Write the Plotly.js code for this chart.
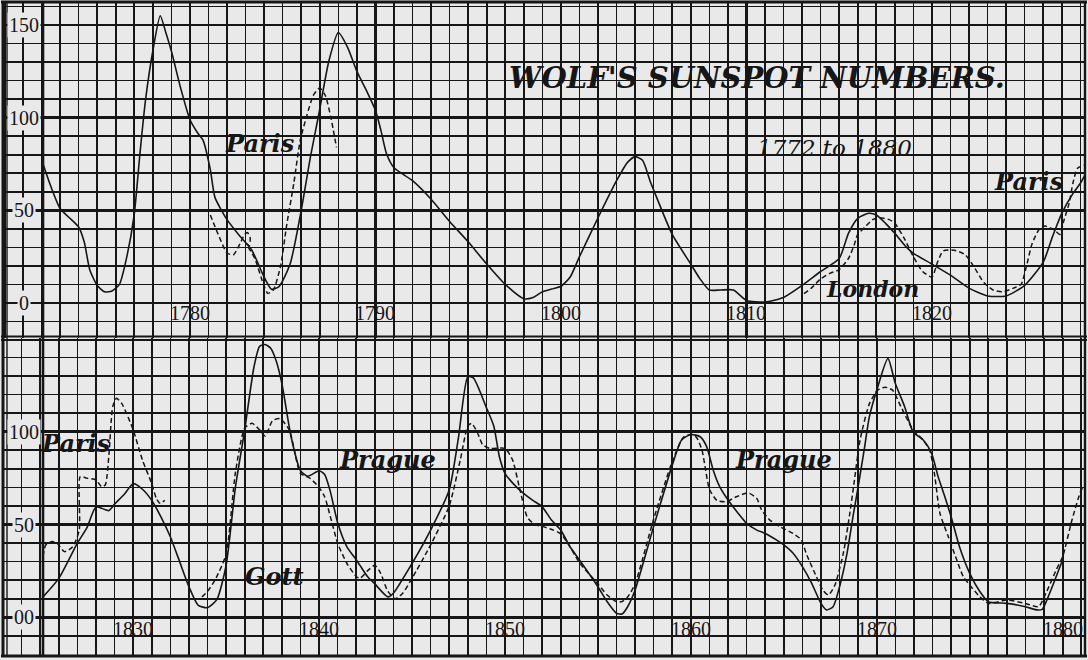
<!DOCTYPE html>
<html>
<head>
<meta charset="utf-8">
<script src="https://cdn.plot.ly/plotly-3.0.1.min.js"></script>
<style>
  html, body { margin: 0; padding: 0; background: #e9e9e9; }
  #chart { width: 1088px; height: 660px; }
</style>
</head>
<body>
<div id="chart"></div>
<script>
// ---------------- DATA ----------------
// Upper panel, 1772-1828: Wolf's numbers (solid)
const topWolfYears = [1772.08,1772.5,1773,1773.5,1774,1774.3,1774.6,1775,1775.4,1775.8,1776.2,1776.6,1777,1777.3,1777.6,1778,1778.4,1778.7,1779,1779.5,1780,1780.4,1780.7,1781.1,1781.35,1782,1782.7,1783.33,1784,1784.4,1784.8,1785.4,1786,1786.5,1786.95,1787.5,1788,1788.5,1789,1789.5,1790,1790.3,1790.6,1791,1792,1793,1794,1795,1796,1797,1798,1798.5,1799,1799.5,1800,1800.5,1801,1802,1803,1803.6,1804,1804.4,1804.8,1805,1806,1807,1807.5,1808,1808.6,1809.3,1810,1811,1812,1813,1814,1815,1815.5,1816,1816.6,1817,1817.5,1818,1818.6,1819,1820,1821,1822,1823,1824,1825,1826,1826.5,1827,1827.6,1828,1828.25];
const topWolf      = [75,63,51,46,41,33,18,9.5,6,6.5,10,25,48,80,109,136,155,146,136,116,99,92,88,72,57,45,36,28.6,14,7.4,8.8,21,50,79,102,131,146,138,125,115,104,93,80.5,73,66,56,44,33,21,10,2.3,3,6,7.5,9,14,25,46,66,76,79,77,66,61,37,21,13,7,7,7,1.4,0.5,3,9.5,17,24,37.6,45.7,48.4,47.5,43,37.6,30.4,26.8,21,15,8,3.8,3.8,9.5,22,35.8,48.4,59,64.6,69];
// Upper panel: Paris (dashed), 1781-1788
const topParisYears = [1781.1,1781.5,1782,1782.35,1782.7,1782.95,1783.1,1783.25,1783.2,1783.05,1783.15,1783.5,1784,1784.2,1784.5,1784.9,1785.2,1785.6,1785.95,1786.3,1786.65,1787,1787.3,1787.6,1787.9];
const topParis      = [47.5,37.6,27,26,32,37,38,35,31,32,30,24,9,5.2,7,20.5,41,64.6,88,101,112,116,112,100,84];
// Upper panel: London and Paris (dashed), 1813-1828
const topLondonYears = [1813.1,1813.5,1814,1814.5,1815,1815.5,1815.8,1816,1816.4,1816.8,1817.2,1817.7,1818,1818.5,1819,1819.5,1820,1820.3,1820.6,1821.2,1821.8,1822.3,1822.8,1823.3,1823.8,1824.4,1824.8,1825.1,1825.4,1825.8,1826.1,1826.6,1826.9,1827.1,1827.4,1827.6,1827.85,1828.25];
const topLondon      = [5,8,13,16,18,24,31,37,41,45,46,45,43,35,25,17,14,22,28,28.5,26,19,11,7,6,8,10,20,32,40,41.5,39.4,37,44,54,64.6,72.7,74.5];

// Lower panel, 1825-1880: Wolf's numbers (solid)
const botWolfYears = [1825.15,1826,1827,1827.5,1828,1828.5,1828.7,1829,1829.5,1830,1830.5,1831,1831.5,1832,1832.5,1833,1833.5,1834,1834.5,1835,1835.5,1836,1836.5,1836.8,1837.1,1837.4,1837.7,1838,1838.5,1839,1839.4,1840,1840.3,1840.6,1841,1841.5,1842,1842.2,1842.6,1843,1843.7,1844,1845,1846,1847,1847.5,1848,1848.3,1849,1849.4,1849.7,1850,1850.6,1851,1851.5,1852,1852.5,1853,1853.5,1854,1855,1855.5,1856,1856.3,1856.6,1857,1858,1859,1859.5,1860,1860.5,1860.85,1861.2,1861.55,1862,1862.55,1863,1863.55,1864,1864.6,1865,1865.5,1866,1866.5,1867,1867.3,1867.65,1868,1868.4,1868.75,1869,1869.35,1869.6,1870,1870.6,1871,1871.5,1871.95,1872.5,1872.95,1873.3,1873.6,1874,1874.45,1875,1875.55,1876,1877,1878,1878.6,1878.9,1879.3,1880];
const botWolf      = [11,21,40,48,59.5,58,57.5,61,66,72,69,63,54,43.4,30,16.5,6.5,5.2,9.5,28,70,101,135,146,147,145,138,126,97,79,76,79,77,68,51,38,31,28,22,18,11,13,29,47,68.6,97,129.6,129,113,103,86.5,77.6,70.4,66.8,63,59.6,52.4,47,38,31,16.5,8.4,2.2,1.8,5.7,14.7,49,82,95.5,98.5,97.3,92,79.4,70.4,63.2,56,50.6,47,45.2,41.7,39,34.5,27.3,18.3,7.5,4,5.7,16.5,34.5,56,70.4,92,108,122.4,139.5,126,113.5,100,95.5,88.3,75.8,66.8,54.2,38,23.7,13.8,8.4,7.5,5.7,4,4.3,13,31];
// Lower panel: Paris (dashed), 1825-1831
const botParisYears = [1825.15,1825.3,1825.65,1825.9,1826.3,1826.75,1827.1,1827.15,1827.5,1828,1828.3,1828.5,1828.7,1828.9,1829.1,1829.4,1830,1830.5,1831,1831.25,1831.45,1831.7];
const botParis      = [33,39,40.8,40,35.4,38,47,75.8,75,74,70.4,71.3,88,113.5,118,115,101,84.7,72,64,61.4,63];
// Lower panel: Gott and Prague (dashed), 1833-1881
const botPragueYears = [1833.7,1834,1834.4,1835,1835.5,1836,1836.4,1836.8,1837.1,1837.5,1837.9,1838.4,1839,1839.5,1840,1840.3,1841,1841.5,1842,1842.2,1842.6,1843,1843.3,1843.7,1844.1,1844.5,1845,1846,1847,1847.6,1848,1848.2,1848.5,1848.8,1849.2,1850,1850.4,1850.8,1851.2,1851.6,1852,1852.6,1853,1853.5,1854,1855,1855.5,1856,1856.3,1856.6,1857,1858,1859,1859.6,1860,1860.3,1860.6,1860.8,1861,1861.4,1861.9,1862.45,1863.1,1863.55,1863.8,1864.25,1864.8,1865.5,1865.95,1866.2,1866.75,1867.1,1867.4,1867.75,1868.2,1868.55,1868.8,1869.1,1869.6,1870.05,1870.45,1870.85,1871.3,1871.95,1872.5,1872.85,1873.1,1873.4,1873.85,1874.3,1874.65,1875,1875.55,1876,1877,1878,1878.7,1879.1,1879.65,1880,1880.5,1881,1881.2];
const botPrague      = [11,14,20,34,78,102,104.5,101,97.7,106,107,101,77.5,75,70,65,40,29,22,21,25,28,24,14,10,13,21,39,60,85,103,104.5,100,93,91,91,85,69,54,50,49,47,45,38,29.5,18,12,8.4,8.5,11,18,53,84,97,98.5,97,90,79,69,63,62.3,65,67,64,58,52.4,48.8,45.2,41.7,34.5,22,14.7,12,17.4,34.5,56,74,95.5,115,122.4,124,122.4,113.5,101,95.5,90,77.6,56,43.4,31,22,17.4,11,7.5,9.3,7.5,5.7,13,25.5,32.7,52.4,68.6,71];

// Tick labels
const topYearTicks = [1780,1790,1800,1810,1820];
const botYearTicks = [1830,1840,1850,1860,1870,1880];
const topValueTicks = [150,100,50,0];
const topValueLabels = ['150','100','50','0'];
const botValueTicks = [100,50,0];
const botValueLabels = ['100','50','00'];

// ---------------- LAYOUT ----------------
const W = 1088, H = 660;
const L = 3, R = 1085, T = 3, B = 655;
const PX = x => (x - L) / (R - L);
const PY = y => (B - y) / (B - T);
const INK = '#161616';
const BG = '#e9e9e9';
const split = PY(338);

const solid = {color: INK, width: 1.6, shape: 'spline', smoothing: 0.6};
const dashed = {color: INK, width: 1.5, dash: '5px,3px', shape: 'spline', smoothing: 0.6};

const traces = [
  {x: topWolfYears, y: topWolf, xaxis: 'x2', yaxis: 'y2', mode: 'lines', line: solid, name: 'Wolf'},
  {x: topParisYears, y: topParis, xaxis: 'x2', yaxis: 'y2', mode: 'lines', line: dashed, name: 'Paris'},
  {x: topLondonYears, y: topLondon, xaxis: 'x2', yaxis: 'y2', mode: 'lines', line: dashed, name: 'London'},
  {x: botWolfYears, y: botWolf, xaxis: 'x', yaxis: 'y', mode: 'lines', line: solid, name: 'Wolf'},
  {x: botParisYears, y: botParis, xaxis: 'x', yaxis: 'y', mode: 'lines', line: dashed, name: 'Paris'},
  {x: botPragueYears, y: botPrague, xaxis: 'x', yaxis: 'y', mode: 'lines', line: dashed, name: 'Prague'}
];

const MINOR_W = 1.6;
const gridAxis = (extra) => Object.assign({
  showgrid: true, gridcolor: INK, gridwidth: 2.3,
  zeroline: false, showticklabels: false, ticks: '', showline: false, fixedrange: true
}, extra);

const topPxPerYear = 18.55, botPxPerYear = 18.59;
const layout = {
  width: W, height: H,
  margin: {l: L, r: W - R, t: T, b: H - B, pad: 0},
  paper_bgcolor: BG, plot_bgcolor: BG,
  showlegend: false,
  xaxis: gridAxis({anchor: 'y', range: [1825.15 - 40 / botPxPerYear, 1825.15 + 1042 / botPxPerYear],
                   tick0: 1820, dtick: 10, minor: {dtick: 1, showgrid: true, gridcolor: INK, gridwidth: MINOR_W}}),
  yaxis: gridAxis({domain: [0, split], range: [-20.3, 150.5], tick0: 0, dtick: 50, gridwidth: 2.8,
                   minor: {dtick: 10, showgrid: true, gridcolor: INK, gridwidth: MINOR_W}}),
  xaxis2: gridAxis({anchor: 'y2', range: [1772.08 - 40 / topPxPerYear, 1772.08 + 1042 / topPxPerYear],
                    tick0: 1770, dtick: 10, minor: {dtick: 1, showgrid: true, gridcolor: INK, gridwidth: MINOR_W}}),
  yaxis2: gridAxis({domain: [split, 1], range: [-18.9, 161.9], tick0: 0, dtick: 50, gridwidth: 2.8,
                    minor: {dtick: 10, showgrid: true, gridcolor: INK, gridwidth: MINOR_W}}),
  shapes: [
    // outer frame
    {type: 'line', xref: 'paper', yref: 'paper', x0: PX(3), x1: PX(3), y0: PY(657), y1: PY(1), line: {color: INK, width: 3}},
    {type: 'line', xref: 'paper', yref: 'paper', x0: PX(7), x1: PX(7), y0: PY(657), y1: PY(1), line: {color: INK, width: 1.4}},
    {type: 'line', xref: 'paper', yref: 'paper', x0: PX(1085), x1: PX(1085), y0: PY(657), y1: PY(1), line: {color: INK, width: 2.4}},
    {type: 'line', xref: 'paper', yref: 'paper', x0: PX(1), x1: PX(1087), y0: PY(2), y1: PY(2), line: {color: INK, width: 3}},
    {type: 'line', xref: 'paper', yref: 'paper', x0: PX(1), x1: PX(1087), y0: PY(656), y1: PY(656), line: {color: INK, width: 3}},
    // separator between the two panels
    {type: 'line', xref: 'paper', yref: 'paper', x0: PX(1), x1: PX(1087), y0: PY(336.5), y1: PY(336.5), line: {color: INK, width: 2}},
    {type: 'line', xref: 'paper', yref: 'paper', x0: PX(1), x1: PX(1087), y0: PY(340), y1: PY(340), line: {color: INK, width: 2}},
    // heavy left axis line
    {type: 'line', xref: 'paper', yref: 'paper', x0: PX(43), x1: PX(43), y0: PY(656), y1: PY(2), line: {color: INK, width: 2.6}}
  ],
  annotations: []
};

const serif = 'Liberation Serif, DejaVu Serif, serif';
const tickFont = {family: serif, size: 20, color: INK};

topValueTicks.forEach((v, i) => layout.annotations.push({
  xref: 'paper', yref: 'y2', x: PX(24), y: v, text: topValueLabels[i], showarrow: false,
  xanchor: 'center', yanchor: 'middle', font: tickFont, bgcolor: BG, borderpad: 1
}));
botValueTicks.forEach((v, i) => layout.annotations.push({
  xref: 'paper', yref: 'y', x: PX(24), y: v, text: botValueLabels[i], showarrow: false,
  xanchor: 'center', yanchor: 'middle', font: tickFont, bgcolor: BG, borderpad: 1
}));
topYearTicks.forEach(yr => layout.annotations.push({
  xref: 'x2', yref: 'y2', x: yr, y: -5.5, text: String(yr), showarrow: false,
  xanchor: 'center', yanchor: 'middle', font: tickFont
}));
botYearTicks.forEach(yr => layout.annotations.push({
  xref: 'x', yref: 'y', x: yr, y: -6.5, text: String(yr), showarrow: false,
  xanchor: 'center', yanchor: 'middle', font: tickFont
}));

const lab = (text, cx, cy, size, weight) => layout.annotations.push({
  xref: 'paper', yref: 'paper', x: PX(cx), y: PY(cy), text: text, showarrow: false,
  xanchor: 'center', yanchor: 'middle',
  font: {family: 'DejaVu Serif, serif', size: size, color: INK, style: 'italic', weight: weight}
});
lab("WOLF'S SUNSPOT NUMBERS.", 757, 78, 29, 'bold');
lab('1772 to 1880', 834, 148, 23, 'normal');
lab('Paris', 260, 143, 24, 'bold');
lab('Paris', 1029, 181, 24, 'bold');
lab('London', 872, 289, 22, 'bold');
lab('Paris', 76, 443, 24, 'bold');
lab('Prague', 387, 459, 24, 'bold');
lab('Gott', 274, 576, 24, 'bold');
lab('Prague', 783, 459, 24, 'bold');

Plotly.newPlot('chart', traces, layout, {staticPlot: true, displayModeBar: false});
</script>
</body>
</html>
